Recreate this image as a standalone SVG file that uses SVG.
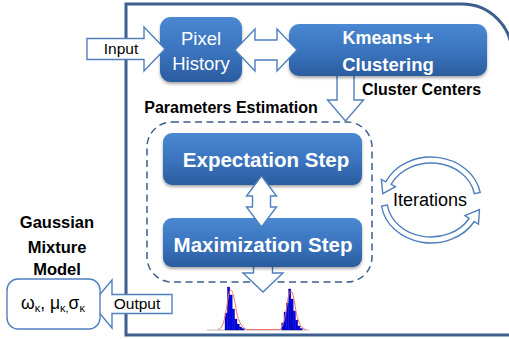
<svg xmlns="http://www.w3.org/2000/svg" width="509" height="339" viewBox="0 0 509 339">
  <defs>
    <linearGradient id="boxFill" x1="0" y1="0" x2="0" y2="1">
      <stop offset="0" stop-color="#4a88d2"/>
      <stop offset="0.55" stop-color="#3a73bd"/>
      <stop offset="1" stop-color="#2b5c9f"/>
    </linearGradient>
    <filter id="shadow" x="-10%" y="-10%" width="120%" height="130%">
      <feDropShadow dx="0" dy="2" stdDeviation="1.5" flood-color="#000" flood-opacity="0.35"/>
    </filter>
  </defs>
  <style>
    .frame { fill: none; stroke: #3d5f8e; stroke-width: 3; }
    .box { fill: url(#boxFill); filter: url(#shadow); }
    .blockArrow { fill: #ffffff; stroke: #4f7fbd; stroke-width: 1.4; stroke-linejoin: miter; }
    .dashed { fill: none; stroke: #3d5f8e; stroke-width: 1.5; stroke-dasharray: 7 4.5; }
    .t { font-family: "Liberation Sans", Arial, sans-serif; }
    .boxText { fill: #ffffff; font-weight: bold; text-anchor: middle; }
    .lightText { fill: #ffffff; text-anchor: middle; }
    .label { fill: #000000; font-weight: bold; }
    .plain { fill: #000000; }
    .bar { fill: #0000f0; stroke: #000060; stroke-width: 0.3; }
    .fit { fill: none; stroke: #f07070; stroke-width: 1; }
    .axis { stroke: #b4b4b4; stroke-width: 1; }
  </style>

  <!-- outer system frame -->
  <path class="frame" d="M126,4 H462 A50 50 0 0 1 512,54 V335 H126 Z"/>

  <!-- parameters estimation container -->
  <g id="parameters-estimation">
    <rect class="dashed" x="147" y="122" width="225" height="160" rx="25" ry="25"/>
    <text class="t label" x="231" y="113" font-size="16" text-anchor="middle">Parameters Estimation</text>
  </g>

  <!-- connectors drawn beneath boxes -->
  <g id="connectors-under">
    <path class="blockArrow" d="M337,72 H354 V100 H363.5 L345.5,121 L327.5,100 H337 Z"/>
    <path class="blockArrow" d="M253.5,262 H272.5 V273 H283 L263,292 L243,273 H253.5 Z"/>
  </g>

  <g id="pixel-history">
    <rect class="box" x="160" y="17" width="82" height="65" rx="11" ry="11"/>
    <text class="t lightText" x="201" y="45" font-size="18.5">Pixel</text>
    <text class="t lightText" x="201" y="70" font-size="18.5">History</text>
  </g>

  <g id="kmeans">
    <rect class="box" x="289" y="24" width="198" height="52" rx="10" ry="10"/>
    <text class="t boxText" x="388" y="44" font-size="18">Kmeans++</text>
    <text class="t boxText" x="388" y="71" font-size="18.5">Clustering</text>
  </g>

  <text id="cluster-centers" class="t label" x="362" y="95" font-size="16">Cluster Centers</text>

  <g id="expectation-step">
    <rect class="box" x="163" y="133" width="199" height="52" rx="9" ry="9"/>
    <text class="t boxText" x="266" y="167" font-size="20.5">Expectation Step</text>
  </g>

  <g id="maximization-step">
    <rect class="box" x="163" y="218" width="199" height="49" rx="9" ry="9"/>
    <text class="t boxText" x="263" y="252" font-size="20.5">Maximization Step</text>
  </g>

  <!-- connectors drawn over boxes and frame -->
  <g id="connectors">
    <!-- input into pixel history -->
    <path class="blockArrow" d="M87,38.5 H144 V27 L165,49 L144,71 V59.5 H87 Z"/>
    <!-- pixel history <-> kmeans -->
    <path class="blockArrow" d="M235,50 L255,29 V40 H277 V29 L297,50 L277,71 V60 H255 V71 Z"/>
    <!-- expectation <-> maximization -->
    <path class="blockArrow" d="M261.5,176 L276.5,196 H270.5 V207 H276.5 L261.5,227 L246.5,207 H252.5 V196 H246.5 Z"/>
    <!-- output to model parameters -->
    <path class="blockArrow" d="M92,304 L112,280 V294.5 H172 V313.5 H112 V328 Z"/>
    <!-- iteration cycle -->
    <path class="blockArrow" d="M480.2,192.5 A50 43 0 0 0 385.7,181.8 L381.3,179.4 L382.8,193.6 L395.5,186.7 L391.1,184.3 A44 37 0 0 1 474.3,193.6 Z"/>
    <path class="blockArrow" d="M381.5,206 A50 43 0 0 0 474.3,221.5 L478.5,224.3 L479.4,209.5 L464.9,215.7 L469.1,218.5 A44 37 0 0 1 387.4,205.1 Z"/>
  </g>

  <text id="output-label" class="t plain" x="137" y="309" font-size="15.5" text-anchor="middle">Output</text>
  <text id="input-label" class="t plain" x="121" y="54" font-size="15.5" text-anchor="middle">Input</text>
  <text id="iterations-label" class="t plain" x="430" y="206" font-size="18" text-anchor="middle">Iterations</text>

  <g id="gmm-title">
    <text class="t label" x="57" y="228" font-size="16.5" text-anchor="middle">Gaussian</text>
    <text class="t label" x="57" y="253" font-size="16.5" text-anchor="middle">Mixture</text>
    <text class="t label" x="57" y="275" font-size="16.5" text-anchor="middle">Model</text>
  </g>

  <g id="gmm-parameters">
    <rect x="7" y="279" width="93" height="50" rx="11" ry="11" fill="#ffffff" stroke="#4f7fbd" stroke-width="1.4"/>
    <text class="t plain" x="53" y="309" font-size="17.5" text-anchor="middle">ω<tspan font-size="11" dy="3">κ</tspan><tspan dy="-3">, μ</tspan><tspan font-size="11" dy="3">κ,</tspan><tspan dy="-3">σ</tspan><tspan font-size="11" dy="3">κ</tspan></text>
  </g>

  <!-- fitted mixture histogram -->
  <g id="histogram">
    <line class="axis" x1="207" y1="330" x2="309" y2="330"/>
    <rect class="bar" x="225" y="313" width="2.4" height="17"/>
    <rect class="bar" x="227.4" y="287" width="2.4" height="43"/>
    <rect class="bar" x="229.8" y="295" width="2.4" height="35"/>
    <rect class="bar" x="232.2" y="309" width="2.4" height="21"/>
    <rect class="bar" x="234.6" y="319" width="2.4" height="11"/>
    <rect class="bar" x="237" y="324" width="2.4" height="6"/>
    <rect class="bar" x="239.4" y="327" width="2.4" height="3"/>
    <rect class="bar" x="241.8" y="328.5" width="2.4" height="1.5"/>
    <rect class="bar" x="281.7" y="323" width="2.3" height="7"/>
    <rect class="bar" x="284" y="312" width="2.3" height="18"/>
    <rect class="bar" x="286.3" y="303" width="2.3" height="27"/>
    <rect class="bar" x="288.6" y="289" width="2.3" height="41"/>
    <rect class="bar" x="290.9" y="299" width="2.3" height="31"/>
    <rect class="bar" x="293.2" y="311" width="2.3" height="19"/>
    <rect class="bar" x="295.5" y="320" width="2.3" height="10"/>
    <rect class="bar" x="297.8" y="326" width="2.3" height="4"/>
    <rect class="bar" x="300.1" y="328.5" width="2.3" height="1.5"/>
    <path class="fit" d="M218,329.5 C223,329 225,318 227,305 C228.5,294 229.5,290 231,290 C233,290 235,303 237,314 C239,322 242,328 247,329.5 L279,329.5 C283,329 285,318 287,305 C288.5,294 289.5,291 291,291 C293,291 294.5,303 296.5,314 C298.5,322 301,328.5 306,329.5"/>
  </g>
</svg>
